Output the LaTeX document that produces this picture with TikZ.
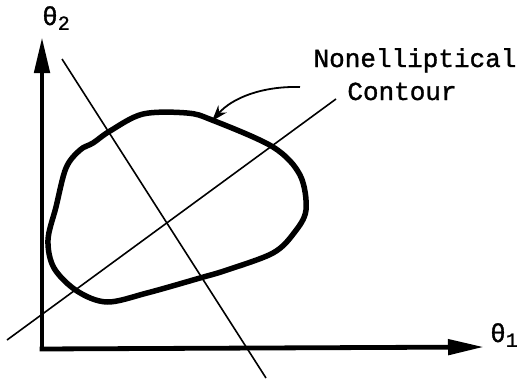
\documentclass[tikz,border=0pt]{standalone}
\usepackage{fontspec}
\setmonofont[AutoFakeBold=1.2]{Liberation Mono}
\usetikzlibrary{arrows.meta}
\tikzset{
  axis/.style={line width=4.8pt, -{Triangle[length=36pt,width=15pt]}},
  thinline/.style={line width=1.6pt},
  contour/.style={line width=5.5pt, line join=round},
  lbl/.style={font=\ttfamily\bfseries\fontsize{26}{30}\selectfont, inner sep=0pt},
  pointer/.style={line width=1.8pt, -{Stealth[length=16pt,width=11pt]}}
}
\begin{document}
\begin{tikzpicture}[x=1pt,y=-1pt]
\useasboundingbox (0,0) rectangle (523,383);
\coordinate (O) at (42,349);
\coordinate (Ytip) at (42,37);
\coordinate (Xtip) at (484,347);
\draw[axis] (O) -- (Ytip);
\draw[axis] ([xshift=-2.4pt]O) -- (Xtip);
\node[lbl, anchor=west] (t2) at (42,18) {θ\raisebox{-0.35ex}{\fontsize{20}{22}\selectfont 2}};
\node[lbl, anchor=west] (t1) at (490,335) {θ\raisebox{-0.35ex}{\fontsize{20}{22}\selectfont 1}};
\coordinate (L1a) at (62,59);
\coordinate (L1b) at (266,378);
\coordinate (L2a) at (7,340);
\coordinate (L2b) at (336,99);
\draw[thinline] (L1a) -- (L1b);
\draw[thinline] (L2a) -- (L2b);
\draw[contour] plot[smooth cycle, tension=0.55] coordinates {
 (110,131) (143,114) (187,113) (212,120) (273,147) (300,175) (306,210)
 (294,233) (273,253) (227,270) (200,278) (147,293) (107,302) (77,291)
 (54,268) (48,240) (56,207) (66,168) (80,150) (93,143)};
\node[lbl, anchor=base] (n1) at (415,67) {Nonelliptical};
\node[lbl, anchor=base] (n2) at (402,100) {Contour};
\coordinate (P) at (300,87);
\coordinate (Ptip) at (212,121);
\draw[pointer] (P) .. controls (262,86) and (232,98) .. (Ptip);
\end{tikzpicture}
\end{document}
